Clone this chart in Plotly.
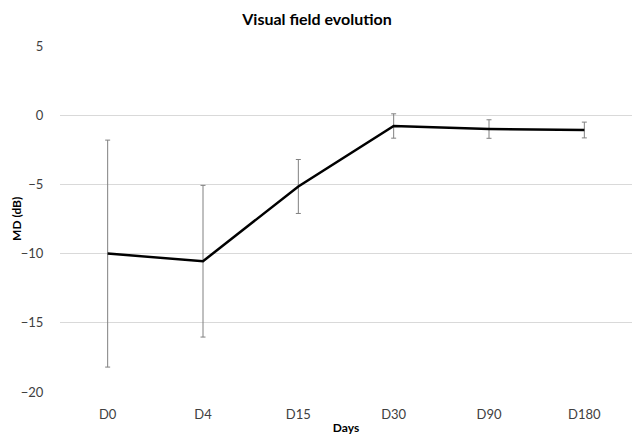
import plotly.graph_objects as go

days = ["D0", "D4", "D15", "D30", "D90", "D180"]
md = [-10.0, -10.55, -5.15, -0.78, -1.0, -1.07]
err = [8.2, 5.48, 1.95, 0.88, 0.67, 0.57]
y_ticks = [5, 0, -5, -10, -15, -20]

fig = go.Figure()
fig.add_trace(go.Scatter(
    x=days, y=md, mode="lines",
    line=dict(color="black", width=2.5),
    error_y=dict(type="data", array=err, visible=True, color="#808080", thickness=1, width=2.5),
    showlegend=False,
))

font = "Lato, 'Open Sans', sans-serif"
fig.update_layout(
    width=634, height=435,
    margin=dict(l=60, r=2, t=46, b=43),
    paper_bgcolor="white", plot_bgcolor="white",
    title=dict(text="<b>Visual field evolution</b>", x=0.5, xanchor="center", y=0.955, yanchor="middle",
               font=dict(family=font, size=16, color="black")),
    font=dict(family=font, size=13, color="#404040"),
    annotations=[dict(
        text="<b>MD (dB)</b>", xref="paper", yref="paper", x=-0.077, y=0.5,
        xanchor="center", yanchor="middle", textangle=-90, showarrow=False,
        font=dict(family=font, size=12, color="black"),
    )],
)
fig.update_xaxes(
    type="category", range=[-0.5, len(days) - 0.5], showgrid=False, zeroline=False, showline=False,
    ticks="outside", ticklen=10, tickcolor="rgba(0,0,0,0)", automargin=False,
    title=dict(text="<b>Days</b>", font=dict(family=font, size=12, color="black"), standoff=6),
    tickfont=dict(family=font, size=13, color="#404040"),
)
fig.update_yaxes(
    range=[-20, 5], tickvals=y_ticks, showgrid=True, gridcolor="#d9d9d9", gridwidth=1,
    zeroline=False, showline=False, automargin=False,
    ticks="outside", ticklen=13, tickcolor="rgba(0,0,0,0)",
    tickfont=dict(family=font, size=13, color="#404040"),
)

fig.write_html("out.html")
